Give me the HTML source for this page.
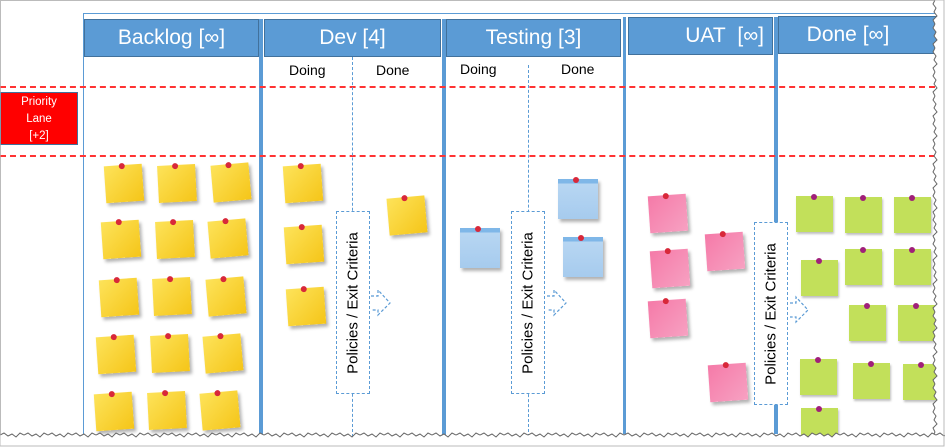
<!DOCTYPE html>
<html><head><meta charset="utf-8"><style>
body{margin:0;width:945px;height:447px;overflow:hidden;background:#fff;font-family:"Liberation Sans","DejaVu Sans",sans-serif;position:relative}
.a{position:absolute}
.h{position:absolute;background:#5b9bd5;border:1px solid #41719c;color:#fff;font-size:21px;text-align:center;line-height:36px;box-sizing:border-box;height:38px}
.v{position:absolute;background:#5b9bd5;width:4px;top:19px;height:417px}
.sub{position:absolute;font-size:14px;color:#000}
.rd{position:absolute;left:0;width:935px;border-top:2px dashed #f33}
.pol{position:absolute;border:1.5px dashed #5b9bd5;background:#fff;width:34px;height:183px;box-sizing:border-box}
.pol span{position:absolute;left:50%;top:50%;transform:translate(-50%,-50%) rotate(-90deg);white-space:nowrap;font-size:15px;color:#000}
.dd{position:absolute;width:0;border-left:1.5px dashed #5b9bd5}
.n{position:absolute;width:38px;height:37px;box-shadow:2px 3px 3px rgba(0,0,0,.3)}
.y{background:linear-gradient(135deg,#fde35a,#f5c518)}
.b{background:linear-gradient(#7fb7e8 0,#7fb7e8 4px,#b7d6f2 5px,#a6cbee);width:40px;height:40px}
.p{background:linear-gradient(135deg,#f57aa8,#f7a1c2)}
.g{background:#c2e05a;width:37px;height:36px;box-shadow:1px 2px 2px rgba(0,0,0,.25)}
.n::after{content:"";position:absolute;left:15px;top:-2px;width:6px;height:6px;border-radius:50%;background:#d8283a}
.g::after{background:#a0207a}
</style></head><body>
<div class="a" style="left:0;top:0;width:943px;height:445px;border:1px solid #bbb"></div>
<div class="a" style="left:83px;top:13px;width:852px;height:1px;background:#5b9bd5"></div>
<div class="a" style="left:83px;top:13px;width:1px;height:423px;background:#5b9bd5"></div>
<div class="v" style="left:259px"></div>
<div class="v" style="left:442px"></div>
<div class="v" style="left:623px;top:17px;width:3px"></div>
<div class="v" style="left:774px;top:17px"></div>
<div class="h" style="left:84px;top:19px;width:175px">Backlog [∞]</div>
<div class="h" style="left:264px;top:19px;width:177px">Dev [4]</div>
<div class="h" style="left:446px;top:19px;width:175px">Testing [3]</div>
<div class="h" style="left:628px;top:17px;width:145px;text-align:right;padding-right:8px">UAT&nbsp; [∞]</div>
<div class="h" style="left:778px;top:16px;width:160px;padding-right:20px">Done [∞]</div>
<div class="sub" style="left:289px;top:62px">Doing</div>
<div class="sub" style="left:376px;top:62px">Done</div>
<div class="sub" style="left:460px;top:61px">Doing</div>
<div class="sub" style="left:561px;top:61px">Done</div>
<div class="rd" style="top:86px"></div>
<div class="rd" style="top:155px"></div>
<div class="a" style="left:0;top:92px;width:78px;height:53px;background:#f00;border:1px solid #41719c;box-sizing:border-box;color:#fff;font-size:11.5px;text-align:center;line-height:17px;padding-top:1px">Priority<br>Lane<br>[+2]</div>
<div class="dd" style="left:352px;top:57px;height:380px"></div>
<div class="dd" style="left:528px;top:65px;height:372px"></div>
<div class="pol" style="left:336px;top:211px"><span>Policies / Exit Criteria</span></div>
<div class="pol" style="left:511px;top:211px"><span>Policies / Exit Criteria</span></div>
<div class="pol" style="left:754px;top:222px"><span>Policies / Exit Criteria</span></div>
<!-- backlog -->
<div class="n y" style="left:105px;top:165px;transform:rotate(-4deg)"></div>
<div class="n y" style="left:158px;top:165px;transform:rotate(-3deg)"></div>
<div class="n y" style="left:212px;top:164px;transform:rotate(-5deg)"></div>
<div class="n y" style="left:102px;top:221px;transform:rotate(-4deg)"></div>
<div class="n y" style="left:156px;top:221px;transform:rotate(-3deg)"></div>
<div class="n y" style="left:209px;top:220px;transform:rotate(-5deg)"></div>
<div class="n y" style="left:100px;top:279px;transform:rotate(-4deg)"></div>
<div class="n y" style="left:153px;top:278px;transform:rotate(-3deg)"></div>
<div class="n y" style="left:207px;top:278px;transform:rotate(-5deg)"></div>
<div class="n y" style="left:97px;top:336px;transform:rotate(-4deg)"></div>
<div class="n y" style="left:151px;top:335px;transform:rotate(-3deg)"></div>
<div class="n y" style="left:204px;top:335px;transform:rotate(-5deg)"></div>
<div class="n y" style="left:95px;top:393px;transform:rotate(-4deg)"></div>
<div class="n y" style="left:148px;top:392px;transform:rotate(-3deg)"></div>
<div class="n y" style="left:201px;top:392px;transform:rotate(-5deg)"></div>
<!-- dev -->
<div class="n y" style="left:284px;top:165px;transform:rotate(-4deg)"></div>
<div class="n y" style="left:285px;top:226px;transform:rotate(-4deg)"></div>
<div class="n y" style="left:287px;top:288px;transform:rotate(-4deg)"></div>
<div class="n y" style="left:388px;top:197px;transform:rotate(-5deg)"></div>
<!-- testing -->
<div class="n b" style="left:460px;top:228px"></div>
<div class="n b" style="left:558px;top:179px"></div>
<div class="n b" style="left:563px;top:237px"></div>
<!-- uat -->
<div class="n p" style="left:649px;top:195px;transform:rotate(-4deg)"></div>
<div class="n p" style="left:651px;top:250px;transform:rotate(-4deg)"></div>
<div class="n p" style="left:649px;top:300px;transform:rotate(-4deg)"></div>
<div class="n p" style="left:706px;top:233px;transform:rotate(-4deg)"></div>
<div class="n p" style="left:709px;top:364px;transform:rotate(-4deg)"></div>
<!-- done -->
<div class="n g" style="left:796px;top:196px"></div>
<div class="n g" style="left:845px;top:197px"></div>
<div class="n g" style="left:894px;top:197px"></div>
<div class="n g" style="left:801px;top:260px"></div>
<div class="n g" style="left:845px;top:249px"></div>
<div class="n g" style="left:894px;top:249px"></div>
<div class="n g" style="left:849px;top:305px"></div>
<div class="n g" style="left:898px;top:305px"></div>
<div class="n g" style="left:800px;top:359px"></div>
<div class="n g" style="left:853px;top:363px"></div>
<div class="n g" style="left:903px;top:364px"></div>
<div class="n g" style="left:801px;top:408px"></div>
<svg class="a" style="left:0;top:0" width="945" height="447">
<defs>
<pattern id="pb" x="0" y="431" width="24" height="16" patternUnits="userSpaceOnUse">
<path d="M0 4 L4 2 L8 5 L12 3 L16 6 L20 2 L24 4 L24 16 L0 16Z" fill="#fff"/>
<path d="M0 4 L4 2 L8 5 L12 3 L16 6 L20 2 L24 4" fill="none" stroke="#666" stroke-width="1"/>
</pattern>
<pattern id="pr" x="930" y="0" width="15" height="24" patternUnits="userSpaceOnUse">
<path d="M5 0 L3 4 L6 8 L4 12 L7 16 L3 20 L5 24 L15 24 L15 0Z" fill="#fff"/>
<path d="M5 0 L3 4 L6 8 L4 12 L7 16 L3 20 L5 24" fill="none" stroke="#666" stroke-width="1"/>
</pattern>
</defs>
<g fill="none" stroke="#5b9bd5" stroke-width="1.2" stroke-dasharray="3,2">
<path d="M371 296 L378 296 L378 290 L390 303 L378 315 L378 310 L371 310"/>
<path d="M547 296 L554 296 L554 290 L566 303 L554 315 L554 310 L547 310"/>
<path d="M790 303 L796 303 L796 297 L808 310 L796 322 L796 317 L790 317"/>
</g>
<rect x="930" y="0" width="15" height="436" fill="url(#pr)"/>
<rect x="0" y="431" width="945" height="16" fill="url(#pb)"/>
<rect x="0" y="0" width="944" height="446" fill="none" stroke="#bbb"/>
</svg>
</body></html>
